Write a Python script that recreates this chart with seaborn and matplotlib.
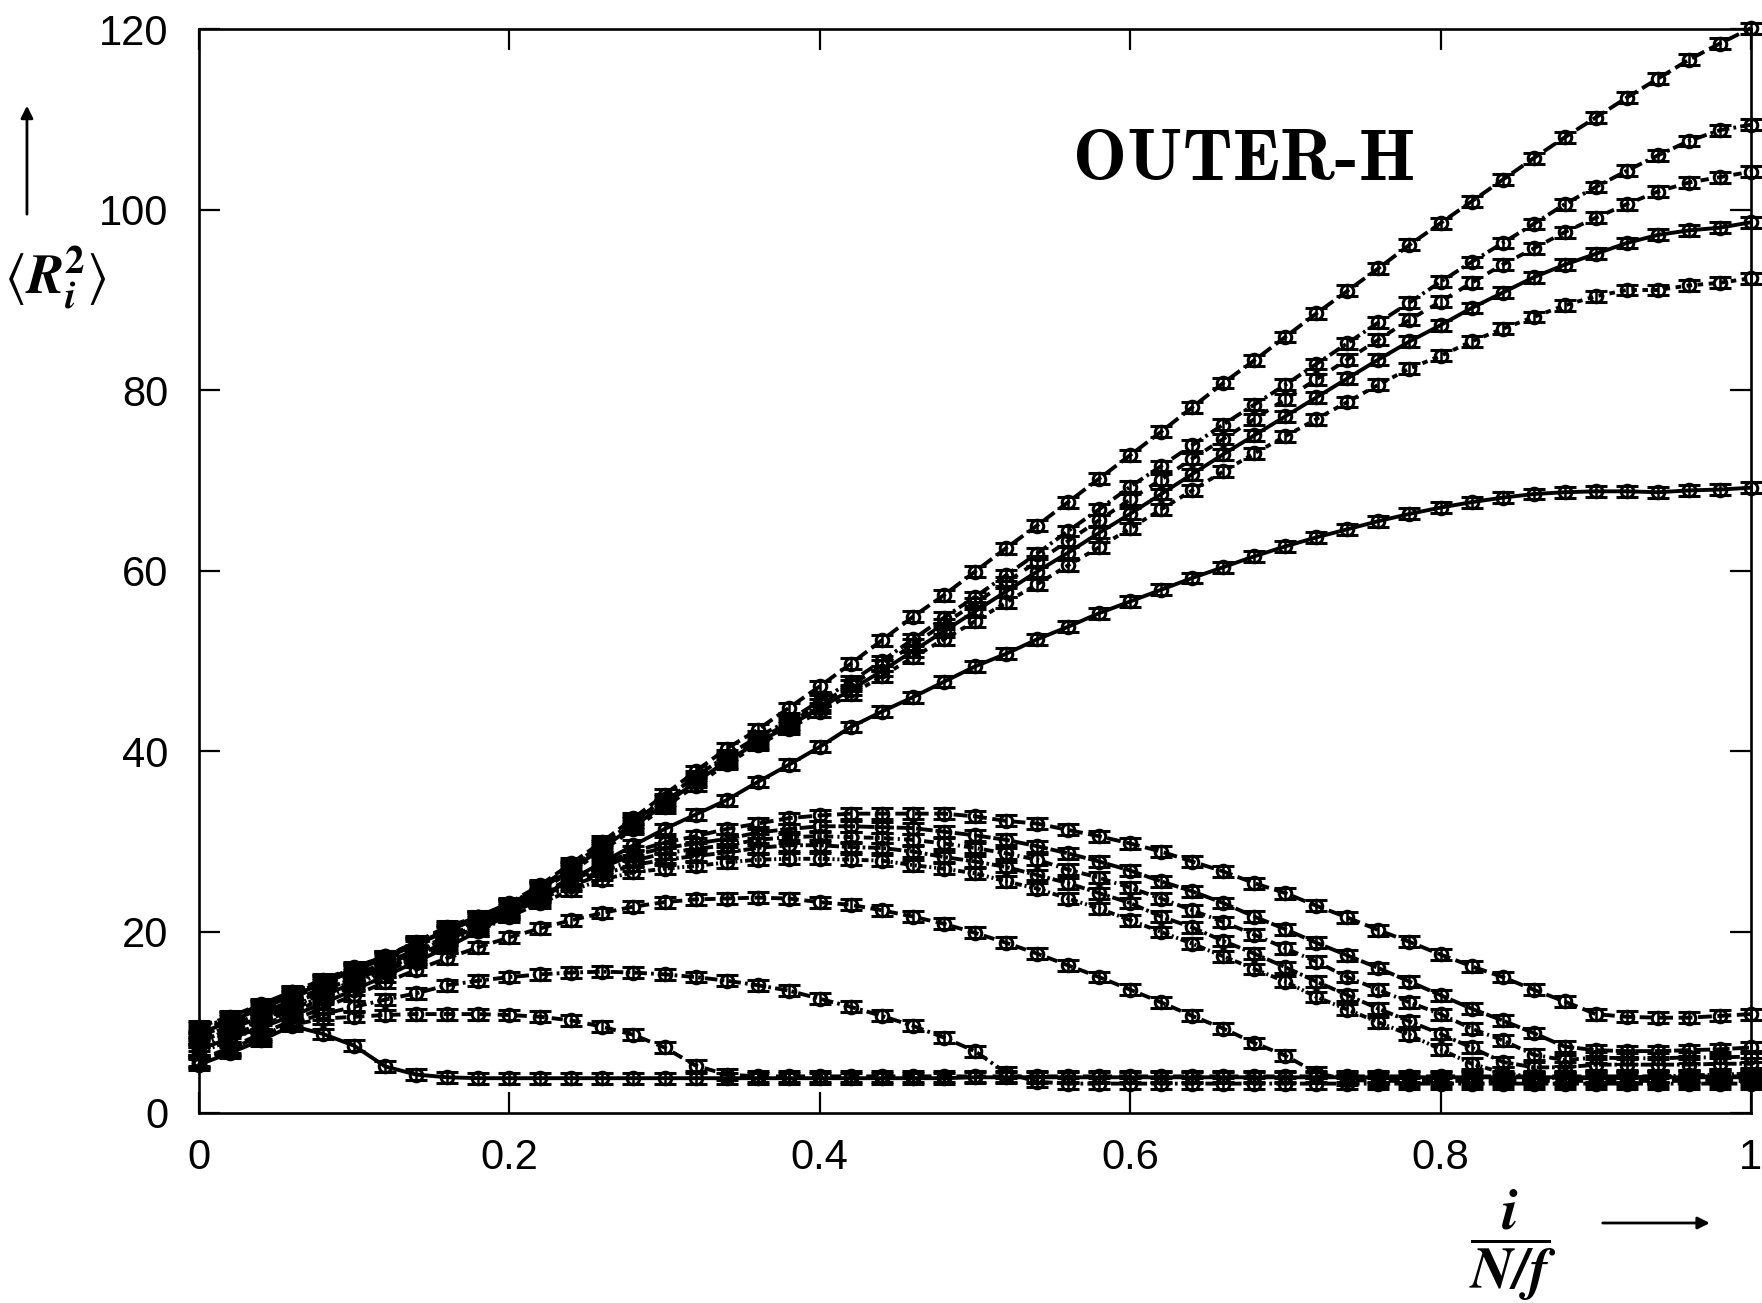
import numpy as np
import pandas as pd
import seaborn as sns
import matplotlib.pyplot as plt

# monomer position i/(N/f), one point every 0.02
x = [round(0.02 * k, 2) for k in range(51)]

# rising curves
u1 = [9.5, 10.6, 12.0, 13.4, 14.7, 16.1, 17.3, 18.9, 20.6, 21.7, 23.2, 25.2, 27.6, 30.0, 32.6, 35.2, 37.8,
      40.3, 42.4, 44.8, 47.2, 49.7, 52.3, 54.9, 57.3, 59.9, 62.5, 65.0, 67.6, 70.2, 72.8, 75.4, 78.1, 80.8,
      83.3, 85.9, 88.5, 91.0, 93.5, 96.1, 98.5, 100.9, 103.3, 105.7, 108.0, 110.2, 112.4, 114.5, 116.6, 118.4, 120.1]
u2 = [9.3, 10.5, 11.9, 13.3, 14.6, 16.0, 17.3, 18.8, 20.4, 21.7, 23.1, 25.0, 27.3, 29.7, 32.2, 34.7, 37.2,
      39.5, 41.6, 43.4, 45.6, 47.7, 50.0, 52.4, 54.8, 57.1, 59.5, 61.9, 64.4, 66.8, 69.3, 71.6, 73.9, 76.2,
      78.4, 80.6, 82.9, 85.2, 87.5, 89.7, 92.0, 94.2, 96.3, 98.4, 100.6, 102.5, 104.3, 106.0, 107.6, 108.8, 109.4]
u3 = [9.0, 10.3, 11.7, 13.1, 14.5, 15.9, 17.2, 18.7, 20.2, 21.6, 23.0, 24.9, 27.1, 29.5, 32.0, 34.4, 36.9,
      39.2, 41.3, 43.1, 45.2, 47.3, 49.5, 51.8, 54.1, 56.4, 58.7, 61.0, 63.3, 65.6, 67.9, 70.1, 72.4, 74.6,
      76.8, 79.0, 81.2, 83.4, 85.6, 87.8, 89.8, 91.9, 93.9, 95.7, 97.5, 99.1, 100.6, 102.0, 103.0, 103.6, 104.2]
u4 = [8.7, 10.1, 11.5, 12.9, 14.3, 15.7, 17.1, 18.6, 20.1, 21.5, 22.9, 24.8, 26.9, 29.3, 31.7, 34.1, 36.6,
      38.9, 41.0, 42.8, 44.8, 46.8, 48.9, 51.1, 53.3, 55.5, 57.7, 59.9, 62.0, 64.2, 66.3, 68.5, 70.7, 72.9,
      75.0, 77.1, 79.2, 81.3, 83.4, 85.4, 87.2, 89.1, 90.8, 92.5, 93.9, 95.1, 96.3, 97.2, 97.7, 98.0, 98.6]
u5 = [8.4, 9.8, 11.2, 12.7, 14.1, 15.5, 16.9, 18.4, 19.9, 21.3, 22.8, 24.6, 26.7, 29.0, 31.4, 33.8, 36.2,
      38.6, 40.7, 42.5, 44.4, 46.3, 48.3, 50.4, 52.4, 54.4, 56.5, 58.5, 60.6, 62.6, 64.7, 66.8, 68.9, 71.0,
      73.0, 74.9, 76.8, 78.7, 80.6, 82.4, 83.8, 85.4, 86.8, 88.1, 89.4, 90.4, 91.1, 91.1, 91.6, 91.9, 92.4]
u6 = [7.0, 8.2, 9.4, 10.7, 12.1, 13.6, 15.1, 16.7, 18.3, 20.1, 22.0, 23.9, 25.8, 27.7, 29.6, 31.4, 33.0,
      34.6, 36.6, 38.5, 40.5, 42.7, 44.4, 46.0, 47.7, 49.4, 50.8, 52.4, 53.8, 55.3, 56.6, 57.9, 59.2, 60.4,
      61.6, 62.7, 63.7, 64.6, 65.5, 66.3, 67.0, 67.6, 68.1, 68.5, 68.7, 68.8, 68.8, 68.7, 68.9, 69.0, 69.2]

# bell shaped curves
b1 = [8.2, 9.6, 11.0, 12.4, 13.8, 15.2, 16.6, 18.0, 19.5, 21.0, 22.6, 24.3, 25.9, 27.5, 28.9, 29.9, 30.6,
      31.4, 32.0, 32.6, 32.9, 33.1, 33.1, 33.1, 33.1, 32.8, 32.3, 32.0, 31.3, 30.6, 29.8, 28.9, 27.8, 26.7,
      25.4, 24.3, 22.9, 21.6, 20.2, 18.9, 17.5, 16.2, 15.0, 13.6, 12.3, 10.9, 10.6, 10.5, 10.5, 10.7, 10.9]
b2 = [7.8, 9.2, 10.6, 12.0, 13.5, 14.9, 16.3, 17.8, 19.3, 20.8, 22.4, 24.1, 25.7, 27.2, 28.5, 29.3, 29.8,
      30.3, 31.0, 31.4, 31.7, 31.7, 31.6, 31.5, 31.1, 30.7, 30.2, 29.5, 28.7, 27.8, 26.8, 25.6, 24.5, 23.2,
      21.7, 20.3, 18.8, 17.4, 16.0, 14.5, 13.0, 11.5, 10.2, 8.8, 7.3, 6.9, 6.8, 6.8, 6.9, 7.0, 7.2]
b3 = [7.4, 8.8, 10.3, 11.7, 13.2, 14.6, 16.1, 17.6, 19.1, 20.6, 22.2, 23.9, 25.4, 26.8, 27.9, 28.7, 29.2,
      29.6, 30.2, 30.5, 30.6, 30.5, 30.4, 30.2, 29.8, 29.3, 28.7, 28.0, 26.9, 26.0, 24.9, 23.7, 22.4, 21.1,
      19.7, 18.2, 16.7, 15.0, 13.6, 12.2, 10.9, 9.3, 8.0, 6.4, 5.8, 6.1, 6.0, 6.0, 6.1, 6.1, 6.2]
b4 = [7.0, 8.4, 9.9, 11.4, 12.9, 14.4, 15.9, 17.4, 18.9, 20.4, 22.0, 23.6, 25.1, 26.4, 27.4, 28.0, 28.4,
      28.8, 29.3, 29.6, 29.6, 29.4, 29.3, 28.9, 28.3, 27.8, 27.2, 26.3, 25.4, 24.3, 23.2, 21.7, 20.5, 19.0,
      17.6, 16.1, 14.5, 13.0, 11.5, 10.1, 8.7, 7.2, 5.6, 5.0, 5.0, 5.3, 5.3, 5.3, 5.3, 5.4, 5.4]
b5 = [6.6, 8.0, 9.5, 11.1, 12.6, 14.1, 15.6, 17.1, 18.6, 20.1, 21.7, 23.2, 24.6, 25.8, 26.6, 27.0, 27.3,
      27.7, 28.0, 28.1, 28.1, 28.0, 27.9, 27.4, 27.0, 26.5, 25.6, 24.8, 23.7, 22.6, 21.3, 20.0, 18.7, 17.3,
      15.9, 14.5, 12.8, 11.4, 10.0, 8.6, 7.0, 5.4, 4.4, 3.9, 3.8, 3.8, 3.9, 4.0, 4.1, 4.2, 4.3]
l3 = [5.8, 7.2, 8.7, 10.2, 11.6, 13.0, 14.4, 15.8, 17.1, 18.3, 19.4, 20.4, 21.3, 22.1, 22.8, 23.3, 23.6,
      23.7, 23.8, 23.7, 23.3, 23.0, 22.4, 21.7, 20.9, 19.9, 18.8, 17.6, 16.3, 15.0, 13.6, 12.2, 10.7, 9.3,
      7.7, 6.3, 4.4, 3.6, 3.5, 3.5, 3.5, 3.5, 3.5, 3.5, 3.5, 3.5, 3.5, 3.5, 3.5, 3.5, 3.5]
l2 = [5.6, 7.0, 8.5, 9.9, 10.9, 11.7, 12.5, 13.2, 14.1, 14.6, 15.0, 15.3, 15.5, 15.6, 15.5, 15.3, 15.0,
      14.6, 14.1, 13.5, 12.6, 11.7, 10.7, 9.6, 8.3, 6.8, 4.4, 3.4, 3.2, 3.2, 3.2, 3.2, 3.2, 3.2, 3.2, 3.2,
      3.2, 3.2, 3.2, 3.2, 3.2, 3.2, 3.2, 3.2, 3.2, 3.2, 3.2, 3.2, 3.2, 3.2, 3.2]
l1 = [5.5, 6.9, 8.3, 9.7, 10.4, 10.6, 10.8, 10.9, 10.9, 10.9, 10.8, 10.6, 10.2, 9.5, 8.6, 7.2, 5.2,
      4.2, 4.0, 4.0, 4.0, 4.0, 4.0, 4.0, 4.0, 4.0, 4.0, 4.0, 4.0, 4.0, 4.0, 4.0, 4.0, 4.0, 4.0, 4.0,
      4.0, 4.0, 4.0, 4.0, 4.0, 4.0, 4.0, 4.0, 4.0, 4.0, 4.0, 4.0, 4.0, 4.0, 4.0]
s0 = [5.3, 6.6, 8.0, 9.6, 8.7, 7.4, 5.1, 4.2, 3.9, 3.8, 3.8, 3.8, 3.8, 3.8, 3.8, 3.8, 3.8,
      3.8, 3.8, 3.8, 3.8, 3.8, 3.8, 3.8, 3.8, 3.9, 3.9, 3.9, 3.9, 3.9, 3.9, 3.9, 3.9, 3.9, 3.9, 3.9,
      3.9, 3.9, 3.9, 3.9, 3.9, 3.9, 3.9, 3.9, 3.9, 3.9, 3.9, 3.9, 3.9, 3.9, 3.9]

err = 0.6

curves = {'u1': u1, 'u2': u2, 'u3': u3, 'u4': u4, 'u5': u5, 'u6': u6,
          'b1': b1, 'b2': b2, 'b3': b3, 'b4': b4, 'b5': b5,
          'l3': l3, 'l2': l2, 'l1': l1, 's0': s0}

dash_map = {'u1': (10, 4), 'u2': (9, 3, 2, 3), 'u3': (6, 6), 'u4': '', 'u5': (4, 4), 'u6': '',
            'b1': (10, 4), 'b2': (12, 2), 'b3': (7, 3, 1.5, 3), 'b4': (9, 2, 2, 2), 'b5': (5, 2, 1.5, 2, 1.5, 2),
            'l3': (8, 4), 'l2': (9, 3, 2, 3), 'l1': (8, 5), 's0': ''}

df = pd.concat([pd.DataFrame({'x': x, 'y': v, 'curve': k}) for k, v in curves.items()])

sns.set_theme(style='ticks')
plt.rcParams['font.family'] = ['Liberation Sans', 'DejaVu Sans']
plt.rcParams['lines.scale_dashes'] = False

fig = plt.figure(figsize=(17.62, 13.03), dpi=100)
ax = fig.add_axes([0.1129, 0.1462, 0.8808, 0.8315])

sns.lineplot(data=df, x='x', y='y', hue='curve', style='curve', dashes=dash_map,
             markers={k: 'o' for k in curves}, palette=['black'] * len(curves),
             legend=False, ax=ax, linewidth=2.8, markersize=9, markerfacecolor='none',
             markeredgecolor='black', markeredgewidth=2.2, clip_on=False, estimator=None, sort=False)

for k, v in curves.items():
    ax.errorbar(x, v, yerr=err, fmt='none', ecolor='black', elinewidth=1.8,
                capsize=8, capthick=2.2, clip_on=False)

ax.set_xlim(0, 1)
ax.set_ylim(0, 120)
ax.set_xticks([0, 0.2, 0.4, 0.6, 0.8, 1])
ax.set_xticklabels(['0', '0.2', '0.4', '0.6', '0.8', '1'])
ax.set_yticks([0, 20, 40, 60, 80, 100, 120])
ax.set_xlabel('')
ax.set_ylabel('')
ax.tick_params(direction='in', length=15, width=1.6, top=True, right=True, labelsize=30, colors='black')
ax.tick_params(axis='y', pad=22)
ax.tick_params(axis='x', pad=18)
for sp in ax.spines.values():
    sp.set_visible(True)
    sp.set_linewidth(1.9)
    sp.set_color('black')

ax.text(0.563, 103.3, 'OUTER-H', fontfamily='cmb10', fontsize=52, va='baseline', color='black')

fig.text(0.002, 0.787, r'$\langle\mathbfit{R}_{\mathbfit{i}}^{\mathbf{2}}\rangle$', math_fontfamily='stix',
         fontsize=40, ha='left', va='center', color='black')
fig.text(0.8587, 0.0445, r'$\dfrac{\mathbfit{i}}{\mathbfit{N/f}}$', math_fontfamily='stix',
         fontsize=42, ha='center', va='center', color='black')

ax.annotate('', xy=(0.0153, 0.921), xytext=(0.0153, 0.8335), xycoords='figure fraction',
            textcoords='figure fraction', annotation_clip=False,
            arrowprops=dict(arrowstyle='-|>', lw=2, color='black', mutation_scale=18))
ax.annotate('', xy=(0.972, 0.0614), xytext=(0.908, 0.0614), xycoords='figure fraction',
            textcoords='figure fraction', annotation_clip=False,
            arrowprops=dict(arrowstyle='-|>', lw=2, color='black', mutation_scale=18))

fig.savefig('out.png', dpi=100)
